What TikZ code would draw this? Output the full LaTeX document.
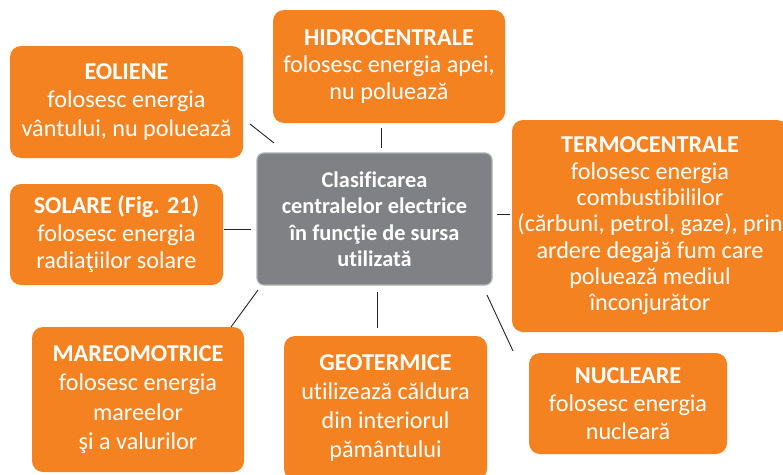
\documentclass[tikz,border=0pt]{standalone}
\usepackage{fontspec}
\setmainfont[Ligatures={NoCommon,NoRare,NoContextual}]{Carlito}
\definecolor{orng}{RGB}{245,130,32}
\definecolor{gbox}{RGB}{128,129,132}
\definecolor{gedge}{RGB}{175,176,178}
\begin{document}
\begin{tikzpicture}[x=1pt,y=-1pt,
  obox/.style={fill=orng, rounded corners=11pt, text=white, align=center, inner sep=0pt,
    font=\fontsize{24.2}{28.5}\selectfont},
  cbox/.style={fill=gbox, draw=gedge, line width=1.2pt, rounded corners=7pt, text=white, align=center, inner sep=0pt,
    font=\bfseries\fontsize{22.4}{26.5}\selectfont},
  conn/.style={draw=black!85, line width=0.9pt}]
\useasboundingbox (0,0) rectangle (783,474);
\fill[white] (0,0) rectangle (783,474);

\node[cbox, minimum width=235pt, minimum height=132pt] (c) at (374.5,219) {Clasificarea\\centralelor electrice\\în funcţie de sursa\\utilizată};

\node[obox, minimum width=233pt, minimum height=112pt] (eol) at (126.5,102)
  {\textbf{EOLIENE}\\folosesc energia\\vântului, nu poluează};
\node[obox, minimum width=232pt, minimum height=113pt, font=\fontsize{24.2}{27}\selectfont] (hid) at (389,66.5)
  {\textbf{HIDROCENTRALE}\\folosesc energia apei,\\nu poluează};
\node[obox, minimum width=276pt, minimum height=212pt, font=\fontsize{24.2}{26.3}\selectfont] (ter) at (650,226)
  {\textbf{TERMOCENTRALE}\\folosesc energia\\combustibililor\\(cărbuni, petrol, gaze), prin\\ardere degajă fum care\\poluează mediul\\înconjurător};
\node[obox, minimum width=213pt, minimum height=101pt, font=\fontsize{24.2}{27.5}\selectfont] (sol) at (116.5,234.5)
  {\textbf{SOLARE (Fig. 21)}\\folosesc energia\\radiaţiilor solare};
\node[obox, minimum width=212pt, minimum height=145pt, font=\fontsize{24.2}{29.3}\selectfont] (mar) at (138,399.5)
  {\textbf{MAREOMOTRICE}\\folosesc energia\\mareelor\\şi a valurilor};
\node[obox, minimum width=203pt, minimum height=144pt, font=\fontsize{24.2}{29}\selectfont] (geo) at (385.5,408)
  {\textbf{GEOTERMICE}\\utilizează căldura\\din interiorul\\pământului};
\node[obox, minimum width=198pt, minimum height=101pt, font=\fontsize{24.2}{28}\selectfont] (nuc) at (628,403.5)
  {\textbf{NUCLEARE}\\folosesc energia\\nucleară};

\coordinate (e1) at (250,124); \coordinate (e2) at (274,143);
\coordinate (h1) at (381,128); \coordinate (h2) at (381,148);
\coordinate (t1) at (497,214); \coordinate (t2) at (510,214);
\coordinate (s1) at (224,229); \coordinate (s2) at (251,229);
\coordinate (m1) at (258,290); \coordinate (m2) at (231,327);
\coordinate (g1) at (377,292); \coordinate (g2) at (377,328);
\coordinate (n1) at (487,295); \coordinate (n2) at (513,351);
\draw[conn] (e1) -- (e2);
\draw[conn] (h1) -- (h2);
\draw[conn] (t1) -- (t2);
\draw[conn] (s1) -- (s2);
\draw[conn] (m1) -- (m2);
\draw[conn] (g1) -- (g2);
\draw[conn] (n1) -- (n2);
\end{tikzpicture}
\end{document}
